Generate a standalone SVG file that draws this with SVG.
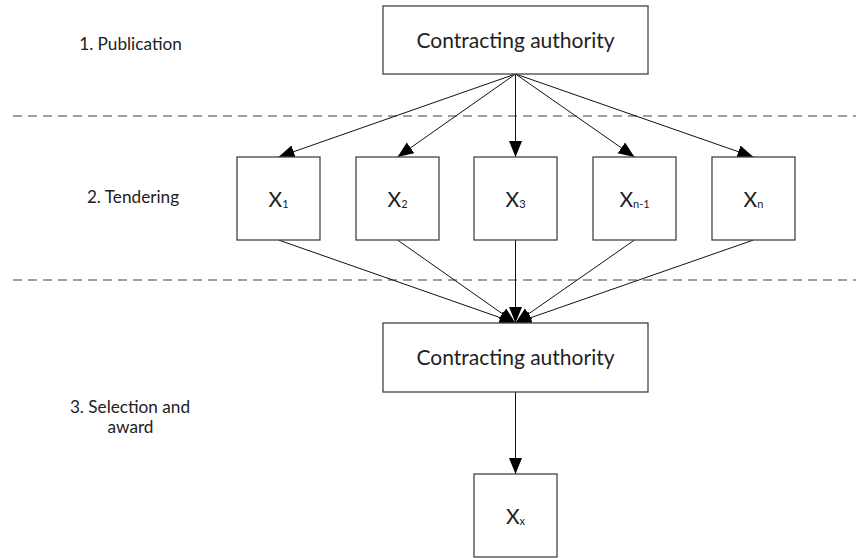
<svg xmlns="http://www.w3.org/2000/svg" width="856" height="558" viewBox="0 0 856 558">
<style>
.box{fill:#fff;stroke:#444;stroke-width:1.3}
.t{font-family:Lato,"Open Sans","Liberation Sans",sans-serif;fill:#222}
.lbl{font-size:17.2px;text-anchor:middle}
.ca{font-size:21px;text-anchor:middle}
.x{font-size:21px;text-anchor:middle}
.sub{font-size:11px}
.dash{stroke:#808080;stroke-width:1.5;stroke-dasharray:9 6;fill:none}
.c{stroke:#111;stroke-width:1;fill:none;marker-end:url(#ah)}
</style>
<defs>
<marker id="ah" markerUnits="userSpaceOnUse" markerWidth="17" markerHeight="14" refX="16" refY="6.5" orient="auto">
<path d="M0,0 L16,6.5 L0,13 z" fill="#000"/>
</marker>
</defs>
<rect width="856" height="558" fill="#fff"/>
<g id="phases">
<line class="dash" x1="13" y1="116" x2="856" y2="116"/>
<line class="dash" x1="13" y1="280" x2="856" y2="280"/>
<text class="t lbl" x="130.5" y="50">1. Publication</text>
<text class="t lbl" x="133" y="203">2. Tendering</text>
<text class="t lbl" x="130" y="413">3. Selection and</text>
<text class="t lbl" x="130.5" y="433">award</text>
</g>
<g id="connectors">
<line class="c" x1="515.5" y1="74" x2="278.5" y2="157"/>
<line class="c" x1="515.5" y1="74" x2="397.5" y2="157"/>
<line class="c" x1="515.5" y1="74" x2="515.5" y2="157"/>
<line class="c" x1="515.5" y1="74" x2="634.5" y2="157"/>
<line class="c" x1="515.5" y1="74" x2="753.5" y2="157"/>
<line class="c" x1="278.5" y1="240" x2="515.5" y2="323"/>
<line class="c" x1="397.5" y1="240" x2="515.5" y2="323"/>
<line class="c" x1="515.5" y1="240" x2="515.5" y2="323"/>
<line class="c" x1="634.5" y1="240" x2="515.5" y2="323"/>
<line class="c" x1="753.5" y1="240" x2="515.5" y2="323"/>
<line class="c" x1="515.5" y1="392" x2="515.5" y2="474"/>
</g>
<g id="ca1">
<rect class="box" x="383" y="6" width="265" height="68"/>
<text class="t ca" x="515.5" y="48">Contracting authority</text>
</g>
<g id="x1">
<rect class="box" x="237" y="157" width="83" height="83"/>
<text class="t x" x="278.5" y="207">X<tspan class="sub" dy="1">1</tspan></text>
</g>
<g id="x2">
<rect class="box" x="356" y="157" width="83" height="83"/>
<text class="t x" x="397.5" y="207">X<tspan class="sub" dy="1">2</tspan></text>
</g>
<g id="x3">
<rect class="box" x="474" y="157" width="83" height="83"/>
<text class="t x" x="515.5" y="207">X<tspan class="sub" dy="1">3</tspan></text>
</g>
<g id="xn1">
<rect class="box" x="593" y="157" width="83" height="83"/>
<text class="t x" x="634.5" y="207">X<tspan class="sub" dy="1">n-1</tspan></text>
</g>
<g id="xn">
<rect class="box" x="712" y="157" width="83" height="83"/>
<text class="t x" x="753.5" y="207">X<tspan class="sub" dy="1">n</tspan></text>
</g>
<g id="ca2">
<rect class="box" x="383" y="323" width="265" height="69"/>
<text class="t ca" x="515.5" y="365">Contracting authority</text>
</g>
<g id="xx">
<rect class="box" x="474" y="474" width="83" height="83"/>
<text class="t x" x="515.5" y="524">X<tspan class="sub" dy="1">x</tspan></text>
</g>
</svg>
